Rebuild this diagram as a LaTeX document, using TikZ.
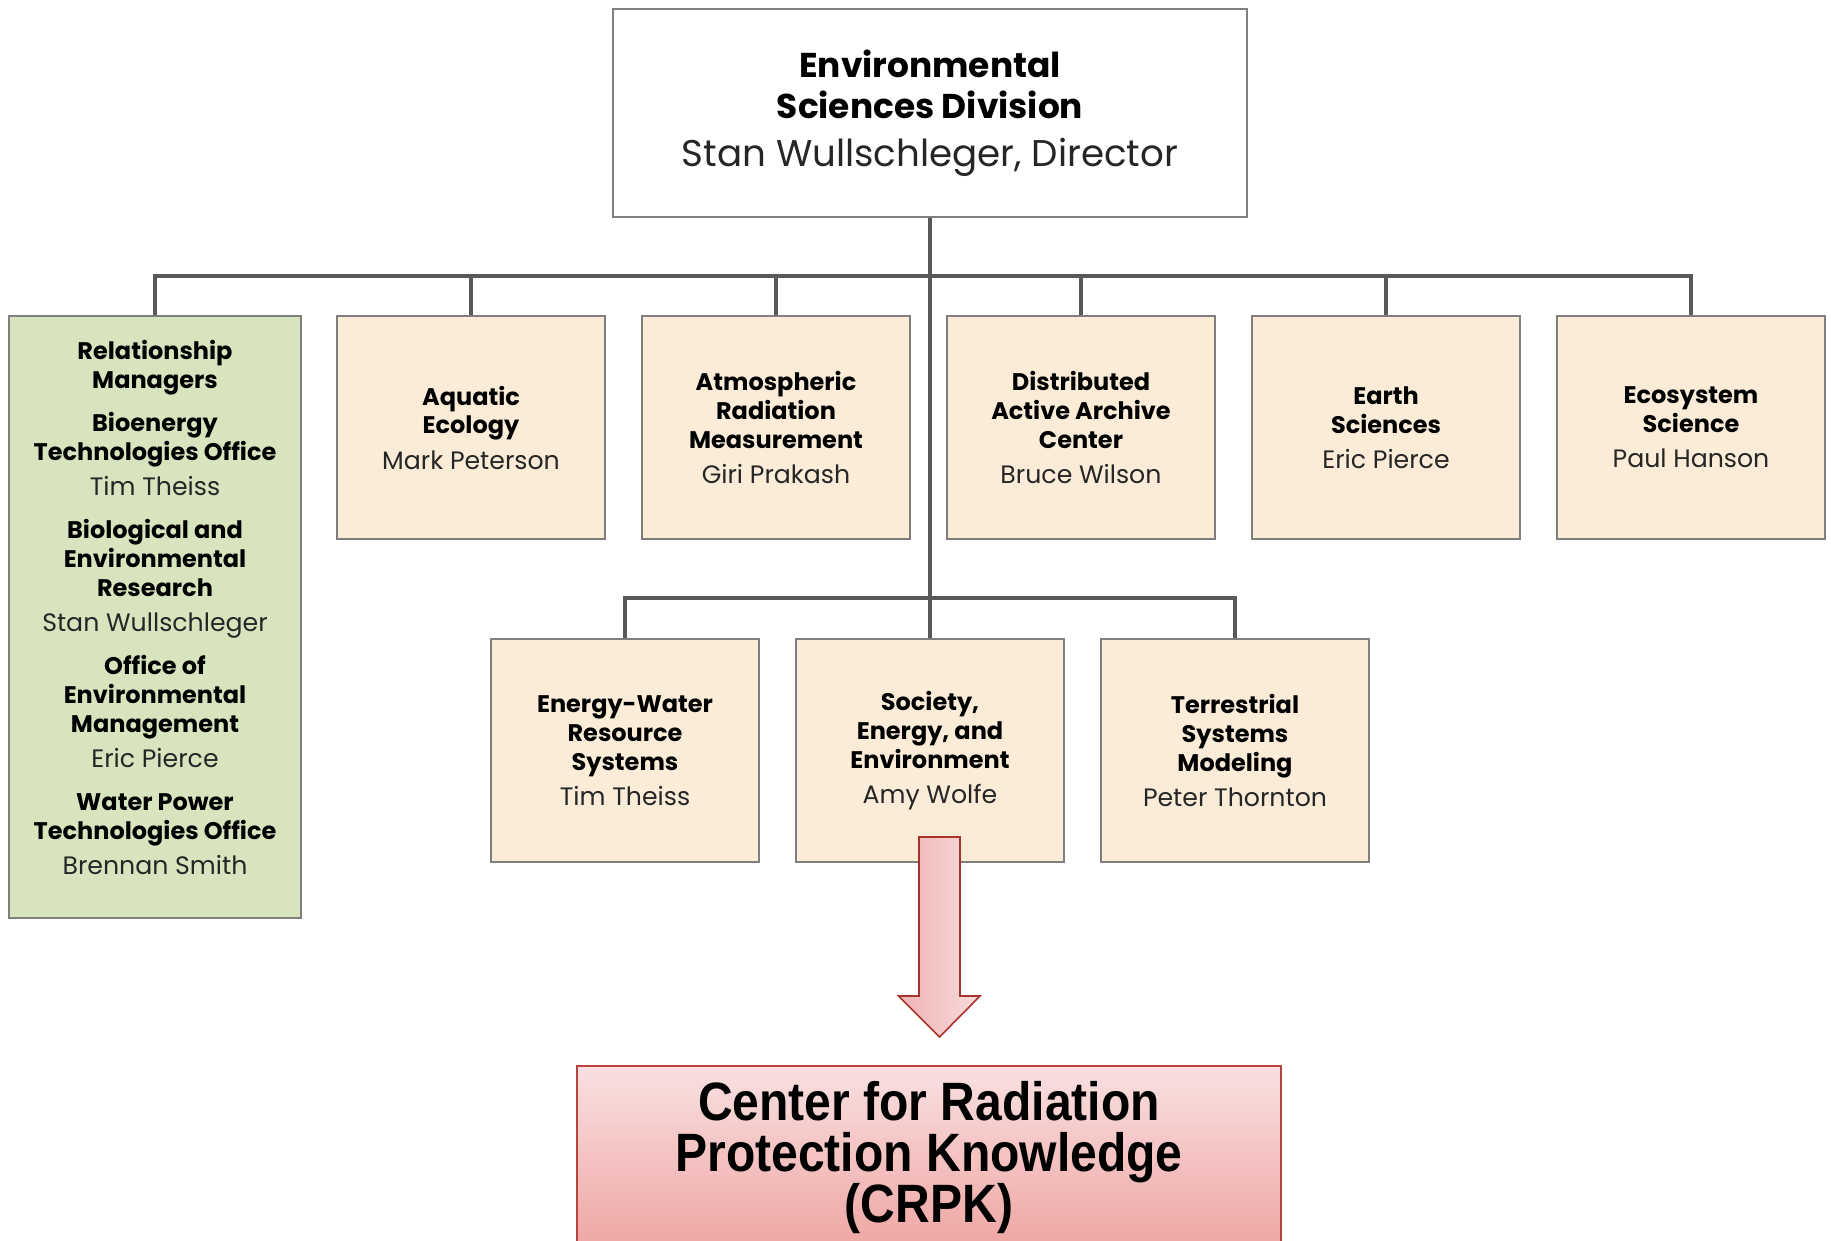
\documentclass[tikz,border=0pt]{standalone}
\usepackage{fontspec}
\setmainfont{Poppins}
\newfontfamily\crpkfont[FakeStretch=0.89]{Liberation Sans}
\usetikzlibrary{positioning}

\definecolor{wiregray}{HTML}{595959}
\definecolor{boxgray}{HTML}{7F7F7F}
\definecolor{unitbeige}{RGB}{250,236,215}
\definecolor{rmgreen}{RGB}{215,228,189}
\definecolor{namegray}{HTML}{262626}
\definecolor{crpktop}{HTML}{F9E0E0}
\definecolor{crpkbot}{HTML}{EEA5A3}
\definecolor{crpkline}{HTML}{B9443E}
\definecolor{arrowleft}{HTML}{F0B2B2}
\definecolor{arrowright}{HTML}{F8DCDC}
\definecolor{arrowline}{HTML}{A8322C}

\newcommand{\who}[1]{{\mdseries\fontsize{12.6}{14.5}\selectfont\color{namegray}#1}}
\newcommand{\bigwho}[1]{{\mdseries\fontsize{18.6}{20.5}\selectfont\color{namegray}#1}}

\begin{document}
\begin{tikzpicture}[x=0.5pt,y=-0.5pt,node distance=17.9pt,inner sep=2pt]
	\tikzstyle{unit}=[draw=boxgray,fill=unitbeige,line width=0.6pt,align=center,
		minimum width=134pt,minimum height=111.5pt,font=\fontsize{12}{14.5}\selectfont\bfseries]
	\tikzstyle{rm}=[unit,fill=rmgreen,minimum width=146pt,minimum height=301pt]
	\tikzstyle{head}=[draw=boxgray,fill=white,line width=0.6pt,align=center,
		minimum width=317pt,minimum height=104pt,font=\fontsize{17.2}{20.5}\selectfont\bfseries]
	\tikzstyle{crpk}=[draw=crpkline,line width=0.6pt,top color=crpktop,bottom color=crpkbot,align=center,
		minimum width=352pt,minimum height=92pt,font=\crpkfont\fontsize{27}{25.5}\selectfont\bfseries]
	\tikzstyle{wire}=[wiregray,line width=1.6pt]
	\tikzstyle{bigarrow}=[draw=arrowline,line width=0.8pt,left color=arrowleft,right color=arrowright]

	\useasboundingbox (0,0) rectangle (1831,1241);
	\clip (0,0) rectangle (1831,1241);

	\node[head] (ESD) at (930,113) {Environmental\\Sciences Division\\[3.5pt]\bigwho{Stan Wullschleger, Director}};

	\node[rm]   (RM)  at (155,617)   {Relationship\\Managers\\[7pt]
		Bioenergy\\Technologies Office\\[3pt]\who{Tim Theiss}\\[7pt]
		Biological and\\Environmental\\Research\\[3pt]\who{Stan Wullschleger}\\[7pt]
		Office of\\Environmental\\Management\\[3pt]\who{Eric Pierce}\\[7pt]
		Water Power\\Technologies Office\\[3pt]\who{Brennan Smith}\\[-5pt]\mbox{}};
	\node[unit] (U_1) at (471,427.5) {Aquatic\\Ecology\\[3pt]\who{Mark Peterson}};
	\node[unit] (U_2) [right=of U_1] {Atmospheric\\Radiation\\Measurement\\[3pt]\who{Giri Prakash}};
	\node[unit] (U_3) [right=of U_2] {Distributed\\Active Archive\\Center\\[3pt]\who{Bruce Wilson}};
	\node[unit] (U_4) [right=of U_3] {Earth\\Sciences\\[3pt]\who{Eric Pierce}};
	\node[unit] (U_5) [right=of U_4] {Ecosystem\\Science\\[3pt]\who{Paul Hanson}};

	\node[unit] (L_1) at (625,750.5) {Energy-Water\\Resource\\Systems\\[3pt]\who{Tim Theiss}};
	\node[unit] (L_2) [right=of L_1] {Society,\\Energy, and\\Environment\\[3pt]\who{Amy Wolfe}};
	\node[unit] (L_3) [right=of L_2] {Terrestrial\\Systems\\Modeling\\[3pt]\who{Peter Thornton}};

	\node[crpk] (CRPK) at (929,1158) {Center for Radiation\\Protection Knowledge\\(CRPK)};

	\coordinate (bus)  at (930,276);
	\coordinate (bus2) at (930,598);
	\coordinate (a_top) at (939.5,837);
	\coordinate (a_tip) at (939.5,1037);

	\draw[wire] (ESD.south) -- (bus2);
	\foreach \n in {RM,U_1,U_2,U_3,U_4,U_5}
		\draw[wire] (bus) -| (\n.north);
	\foreach \n in {L_1,L_2,L_3}
		\draw[wire] (bus2) -| (\n.north);

	\draw[bigarrow] (a_top) ++(-20.5,0) -- ++(41,0) -- ++(0,159) -- ++(20,0) -- (a_tip)
		-- ++(-41,-41) -- ++(20.5,0) -- cycle;
\end{tikzpicture}
\end{document}
